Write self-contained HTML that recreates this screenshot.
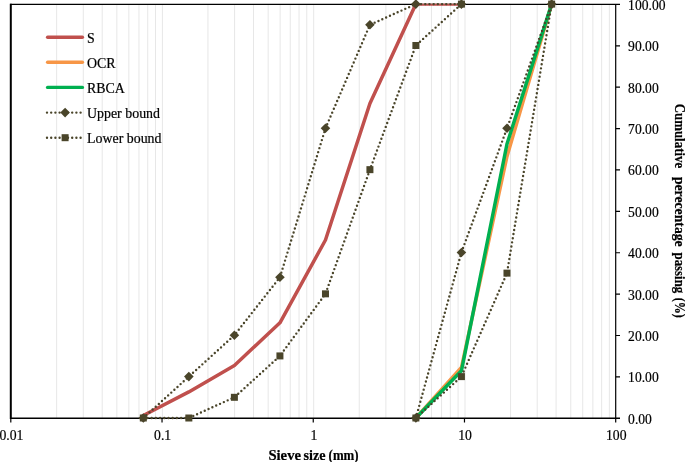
<!DOCTYPE html>
<html><head><meta charset="utf-8"><title>Sieve chart</title>
<style>html,body{margin:0;padding:0;background:#fff}svg{display:block}text{font-family:"Liberation Serif",serif;fill:#000;stroke:#000;stroke-width:0.2px}</style></head><body>
<svg width="685" height="462" viewBox="0 0 685 462">
<rect width="685" height="462" fill="#fff"/>
<path d="M56.65 4.40V418.30M83.29 4.40V418.30M102.19 4.40V418.30M116.85 4.40V418.30M128.83 4.40V418.30M138.96 4.40V418.30M147.74 4.40V418.30M155.48 4.40V418.30M162.40 4.40V418.30M207.95 4.40V418.30M234.59 4.40V418.30M253.49 4.40V418.30M268.15 4.40V418.30M280.13 4.40V418.30M290.26 4.40V418.30M299.04 4.40V418.30M306.78 4.40V418.30M313.70 4.40V418.30M359.25 4.40V418.30M385.89 4.40V418.30M404.79 4.40V418.30M419.45 4.40V418.30M431.43 4.40V418.30M441.56 4.40V418.30M450.34 4.40V418.30M458.08 4.40V418.30M465.00 4.40V418.30M510.55 4.40V418.30M537.19 4.40V418.30M556.09 4.40V418.30M570.75 4.40V418.30M582.73 4.40V418.30M592.86 4.40V418.30M601.64 4.40V418.30M609.38 4.40V418.30" stroke="#e7e7e7" stroke-width="1" fill="none"/>
<path d="M10.10 4.40H620.00" stroke="#000" stroke-width="1.2" fill="none"/>
<path d="M10.10 418.30H620.00" stroke="#000" stroke-width="1.4" fill="none"/>
<path d="M10.80 3.80V419.00" stroke="#000" stroke-width="2" fill="none"/>
<path d="M615.70 4.40V422.60" stroke="#000" stroke-width="1.2" fill="none"/>
<path d="M10.80 418.30v4.3M162.03 418.30v4.3M313.25 418.30v4.3M464.48 418.30v4.3M615.70 376.91h4.3M615.70 335.52h4.3M615.70 294.13h4.3M615.70 252.74h4.3M615.70 211.35h4.3M615.70 169.96h4.3M615.70 128.57h4.3M615.70 87.18h4.3M615.70 45.79h4.3" stroke="#000" stroke-width="1.2" fill="none"/>
<clipPath id="pc"><rect x="0" y="3.8" width="685" height="416"/></clipPath><g clip-path="url(#pc)">
<polyline points="143.30,415.52 188.84,391.92 234.39,365.43 279.93,322.80 325.48,240.02 369.92,103.44 415.88,4.10 461.43,4.10" fill="none" stroke="#C0504D" stroke-width="3.5" stroke-linejoin="round" stroke-linecap="round"/>
<polyline points="415.88,418.00 461.43,367.50 506.98,156.42 551.65,4.10" fill="none" stroke="#F79646" stroke-width="3.5" stroke-linejoin="round" stroke-linecap="round"/>
<polyline points="415.88,418.00 461.43,370.82 506.98,144.00 551.65,4.10" fill="none" stroke="#00B050" stroke-width="3.5" stroke-linejoin="round" stroke-linecap="round"/>
</g>
<polyline points="143.30,418.00 188.84,376.61 234.39,335.22 279.93,277.27 325.48,128.27 369.92,24.79 415.88,4.10 461.43,4.10" fill="none" stroke="#4A452A" stroke-width="2.4" stroke-dasharray="0 4.2" stroke-linecap="round" stroke-linejoin="round"/>
<polyline points="415.88,418.00 461.43,252.44 506.98,128.27 551.65,4.10" fill="none" stroke="#4A452A" stroke-width="2.4" stroke-dasharray="0 4.2" stroke-linecap="round" stroke-linejoin="round"/>
<path d="M138.50 418.00L143.30 413.20L148.10 418.00L143.30 422.80Z" fill="#4A452A"/>
<path d="M184.04 376.61L188.84 371.81L193.64 376.61L188.84 381.41Z" fill="#4A452A"/>
<path d="M229.59 335.22L234.39 330.42L239.19 335.22L234.39 340.02Z" fill="#4A452A"/>
<path d="M275.13 277.27L279.93 272.47L284.73 277.27L279.93 282.07Z" fill="#4A452A"/>
<path d="M320.68 128.27L325.48 123.47L330.28 128.27L325.48 133.07Z" fill="#4A452A"/>
<path d="M365.12 24.79L369.92 19.99L374.72 24.79L369.92 29.59Z" fill="#4A452A"/>
<path d="M411.08 4.10L415.88 -0.70L420.68 4.10L415.88 8.90Z" fill="#4A452A"/>
<path d="M456.63 4.10L461.43 -0.70L466.23 4.10L461.43 8.90Z" fill="#4A452A"/>
<path d="M411.08 418.00L415.88 413.20L420.68 418.00L415.88 422.80Z" fill="#4A452A"/>
<path d="M456.63 252.44L461.43 247.64L466.23 252.44L461.43 257.24Z" fill="#4A452A"/>
<path d="M502.18 128.27L506.98 123.47L511.78 128.27L506.98 133.07Z" fill="#4A452A"/>
<path d="M546.85 4.10L551.65 -0.70L556.45 4.10L551.65 8.90Z" fill="#4A452A"/>
<polyline points="143.30,418.00 188.84,418.00 234.39,397.31 279.93,355.92 325.48,293.83 369.92,169.66 415.88,45.49 461.43,4.10" fill="none" stroke="#4A452A" stroke-width="2.4" stroke-dasharray="0 4.2" stroke-linecap="round" stroke-linejoin="round"/>
<polyline points="415.88,418.00 461.43,376.61 506.98,273.13 551.65,4.10" fill="none" stroke="#4A452A" stroke-width="2.4" stroke-dasharray="0 4.2" stroke-linecap="round" stroke-linejoin="round"/>
<rect x="139.80" y="414.50" width="7.00" height="7.00" fill="#4A452A"/>
<rect x="185.34" y="414.50" width="7.00" height="7.00" fill="#4A452A"/>
<rect x="230.89" y="393.81" width="7.00" height="7.00" fill="#4A452A"/>
<rect x="276.43" y="352.42" width="7.00" height="7.00" fill="#4A452A"/>
<rect x="321.98" y="290.33" width="7.00" height="7.00" fill="#4A452A"/>
<rect x="366.42" y="166.16" width="7.00" height="7.00" fill="#4A452A"/>
<rect x="412.38" y="41.99" width="7.00" height="7.00" fill="#4A452A"/>
<rect x="457.93" y="0.60" width="7.00" height="7.00" fill="#4A452A"/>
<rect x="412.38" y="414.50" width="7.00" height="7.00" fill="#4A452A"/>
<rect x="457.93" y="373.11" width="7.00" height="7.00" fill="#4A452A"/>
<rect x="503.48" y="269.63" width="7.00" height="7.00" fill="#4A452A"/>
<rect x="548.15" y="0.60" width="7.00" height="7.00" fill="#4A452A"/>
<text transform="translate(11.40,440) scale(0.968,1)" font-size="14.2" text-anchor="middle">0.01</text>
<text transform="translate(162.63,440) scale(0.968,1)" font-size="14.2" text-anchor="middle">0.1</text>
<text transform="translate(313.85,440) scale(0.968,1)" font-size="14.2" text-anchor="middle">1</text>
<text transform="translate(465.08,440) scale(0.968,1)" font-size="14.2" text-anchor="middle">10</text>
<text transform="translate(616.30,440) scale(0.968,1)" font-size="14.2" text-anchor="middle">100</text>
<text transform="translate(628.1,423.70) scale(0.958,1)" font-size="14.2">0.00</text>
<text transform="translate(628.1,382.31) scale(0.958,1)" font-size="14.2">10.00</text>
<text transform="translate(628.1,340.92) scale(0.958,1)" font-size="14.2">20.00</text>
<text transform="translate(628.1,299.53) scale(0.958,1)" font-size="14.2">30.00</text>
<text transform="translate(628.1,258.14) scale(0.958,1)" font-size="14.2">40.00</text>
<text transform="translate(628.1,216.75) scale(0.958,1)" font-size="14.2">50.00</text>
<text transform="translate(628.1,175.36) scale(0.958,1)" font-size="14.2">60.00</text>
<text transform="translate(628.1,133.97) scale(0.958,1)" font-size="14.2">70.00</text>
<text transform="translate(628.1,92.58) scale(0.958,1)" font-size="14.2">80.00</text>
<text transform="translate(628.1,51.19) scale(0.958,1)" font-size="14.2">90.00</text>
<text transform="translate(628.1,9.80) scale(0.958,1)" font-size="14.2">100.00</text>
<text y="460" font-size="14.2" font-weight="bold"><tspan x="268.4" textLength="32.6" lengthAdjust="spacingAndGlyphs">Sieve</tspan> <tspan x="303.5" textLength="22" lengthAdjust="spacingAndGlyphs">size</tspan> <tspan x="328.6" textLength="30" lengthAdjust="spacingAndGlyphs">(mm)</tspan></text>
<text transform="translate(675.3,104) rotate(90)" font-size="14.2" font-weight="bold"><tspan x="-0.3" textLength="64.5" lengthAdjust="spacingAndGlyphs">Cumulative</tspan> <tspan x="72.9" textLength="69.8" lengthAdjust="spacingAndGlyphs">perecentage</tspan> <tspan x="148.5" textLength="40.7" lengthAdjust="spacingAndGlyphs">passing</tspan> <tspan x="193.8" textLength="20" lengthAdjust="spacingAndGlyphs">(%)</tspan></text>
<path d="M47.6 37.20H82.4" stroke="#C0504D" stroke-width="3.4" stroke-linecap="round" fill="none"/>
<path d="M47.6 62.30H82.4" stroke="#F79646" stroke-width="3.4" stroke-linecap="round" fill="none"/>
<path d="M47.6 87.40H82.4" stroke="#00B050" stroke-width="3.4" stroke-linecap="round" fill="none"/>
<path d="M47 112.60H82" stroke="#4A452A" stroke-width="2.4" stroke-dasharray="0 4.2" stroke-linecap="round" fill="none"/>
<path d="M47 137.70H82" stroke="#4A452A" stroke-width="2.4" stroke-dasharray="0 4.2" stroke-linecap="round" fill="none"/>
<path d="M60.30 112.60L65.10 107.80L69.90 112.60L65.10 117.40Z" fill="#4A452A"/>
<rect x="61.60" y="134.20" width="7.00" height="7.00" fill="#4A452A"/>
<text transform="translate(87.0,43.00) scale(0.98,1)" font-size="14.2">S</text>
<text transform="translate(87.0,68.10) scale(0.98,1)" font-size="14.2">OCR</text>
<text transform="translate(87.0,93.10) scale(0.98,1)" font-size="14.2">RBCA</text>
<text transform="translate(87.0,117.60) scale(0.98,1)" font-size="14.2">Upper bound</text>
<text transform="translate(87.0,142.70) scale(0.98,1)" font-size="14.2">Lower bound</text>
</svg></body></html>
